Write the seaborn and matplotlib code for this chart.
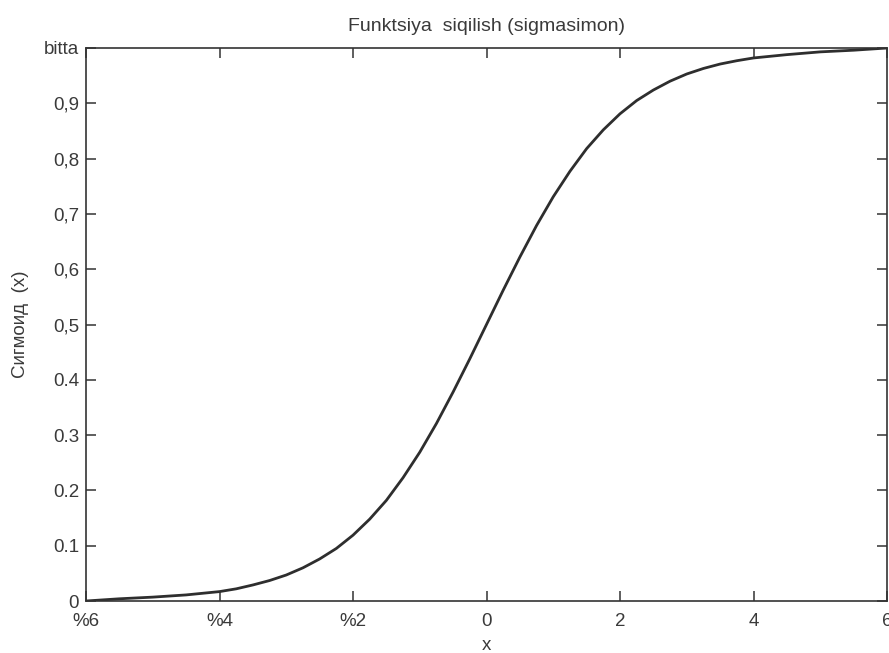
import matplotlib
matplotlib.use("Agg")
import matplotlib.pyplot as plt
import seaborn as sns
import pandas as pd

x_vals = [-6, -5.5, -5, -4.5, -4, -3.75, -3.5, -3.25, -3, -2.75, -2.5, -2.25, -2, -1.75, -1.5,
          -1.25, -1, -0.75, -0.5, -0.25, 0, 0.25, 0.5, 0.75, 1, 1.25, 1.5, 1.75, 2, 2.25, 2.5,
          2.75, 3, 3.25, 3.5, 3.75, 4, 4.5, 5, 5.5, 6]
y_vals = [0.0, 0.004, 0.007, 0.011, 0.017, 0.022, 0.029, 0.037, 0.047, 0.060, 0.076, 0.095,
          0.119, 0.148, 0.182, 0.223, 0.269, 0.321, 0.378, 0.438, 0.5, 0.562, 0.622, 0.679,
          0.731, 0.777, 0.818, 0.852, 0.881, 0.905, 0.924, 0.940, 0.953, 0.963, 0.971, 0.977,
          0.982, 0.988, 0.993, 0.996, 1.0]

x_ticks = [-6, -4, -2, 0, 2, 4, 6]
x_tick_labels = ["%6", "%4", "%2", "0", "2", "4", "6"]
y_ticks = [0, 0.1, 0.2, 0.3, 0.4, 0.5, 0.6, 0.7, 0.8, 0.9, 1.0]
y_tick_labels = ["0", "0.1", "0.2", "0.3", "0.4", "0,5", "0,6", "0,7", "0,8", "0,9", "bitta"]

sns.set_theme(style="white")
plt.rcParams['font.family'] = ['Liberation Sans', 'DejaVu Sans']

df = pd.DataFrame({"x": x_vals, "y": y_vals})

TXT = "#3a3a3a"
fig = plt.figure(figsize=(8.89, 6.53), dpi=100)
ax = fig.add_axes([86/889, 1 - 601/653, (887 - 86)/889, (601 - 48)/653])
sns.lineplot(data=df, x="x", y="y", ax=ax, color="#2e2e2e", linewidth=2.0)

ax.set_xlim(-6, 6)
ax.set_ylim(0, 1)
ax.set_xticks(x_ticks)
ax.set_xticklabels(x_tick_labels)
ax.set_yticks(y_ticks)
ax.set_yticklabels(y_tick_labels)

for s in ax.spines.values():
    s.set_visible(True)
    s.set_color("#333333")
    s.set_linewidth(1.2)

ax.tick_params(direction="in", length=7, width=1.1, color="#333333",
               top=True, right=True, bottom=True, left=True,
               labelsize=13.5, labelcolor=TXT)
ax.tick_params(axis="x", pad=9)
ax.tick_params(axis="y", pad=5)

ax.set_title("Funktsiya  siqilish (sigmasimon)", fontsize=14, color=TXT, pad=12)
ax.set_xlabel("x", fontsize=13.5, color=TXT, labelpad=5)
ax.set_ylabel("Сигмоид  (x)", fontsize=13.5, color=TXT, labelpad=11)
ax.grid(False)

fig.savefig("out.png", dpi=100)
